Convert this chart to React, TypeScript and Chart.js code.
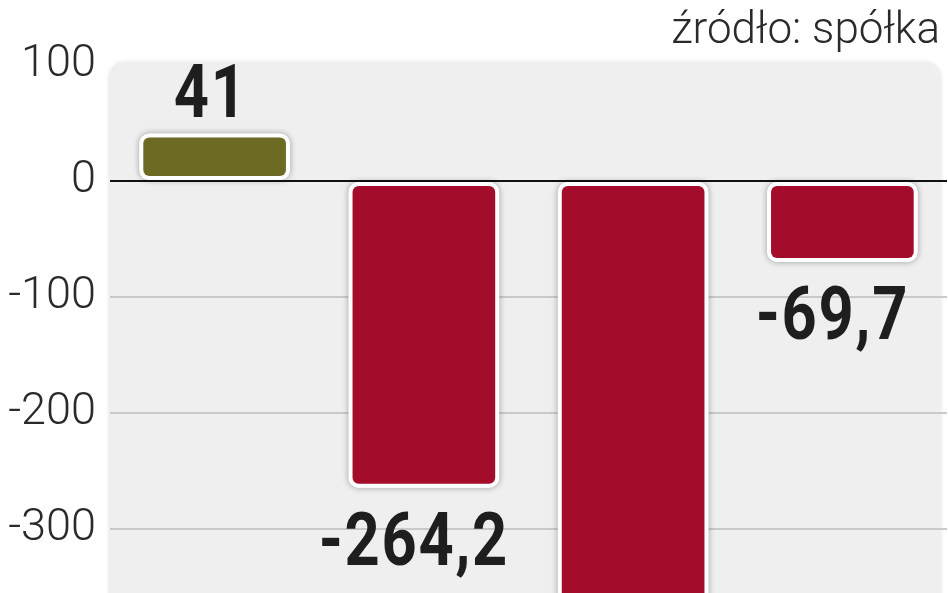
import React, { useEffect, useRef } from "react";
import { Chart, registerables } from "chart.js";

Chart.register(...registerables);

const categories = ["A", "B", "C", "D"];
const values = [41, -264.2, -480, -69.7];
const barColors = ["#6d6a24", "#a30d2b", "#a30d2b", "#a30d2b"];
const yTicks = [-300, -200, -100, 0, 100];
const sourceText = "źródło: spółka";

const fmt = (v: number) => String(v).replace(".", ",");

export default function App() {
  const ref = useRef<HTMLCanvasElement>(null);

  useEffect(() => {
    const canvas = ref.current;
    if (!canvas) return;

    const bgPlugin = {
      id: "plotBg",
      beforeDraw(chart: any) {
        const { ctx, chartArea } = chart;
        ctx.save();
        ctx.fillStyle = "#efefef";
        ctx.shadowColor = "rgba(0,0,0,0.12)";
        ctx.shadowBlur = 4;
        ctx.beginPath();
        const l = chartArea.left - 1;
        const r = 941;
        ctx.roundRect(l, chartArea.top, r - l, chart.height - chartArea.top + 20, [16, 16, 0, 0]);
        ctx.fill();
        ctx.restore();
        ctx.save();
        ctx.font = "300 44px Roboto";
        ctx.fillStyle = "#2a2a2a";
        ctx.textAlign = "right";
        ctx.textBaseline = "alphabetic";
        ctx.fillText(sourceText, 940, 43);
        ctx.restore();
      },
      beforeDatasetsDraw(chart: any) {
        const { ctx, chartArea } = chart;
        const meta = chart.getDatasetMeta(0);
        ctx.save();
        ctx.beginPath();
        ctx.rect(chartArea.left, chartArea.top, chartArea.right - chartArea.left, chartArea.bottom - chartArea.top);
        ctx.clip();
        ctx.shadowColor = "rgba(0,0,0,0.35)";
        ctx.shadowBlur = 6;
        ctx.fillStyle = "#ffffff";
        meta.data.forEach((bar: any) => {
          const p = bar.getProps(["x", "y", "base", "width"], true);
          const top = Math.min(p.y, p.base);
          const h = Math.abs(p.base - p.y);
          ctx.beginPath();
          ctx.roundRect(p.x - p.width / 2, top, p.width, h, 10);
          ctx.fill();
        });
        ctx.restore();
      },
      afterDatasetsDraw(chart: any) {
        const ctx = chart.ctx;
        const meta = chart.getDatasetMeta(0);
        const sx = 0.83;
        ctx.save();
        ctx.font = "bold 74px Roboto";
        (ctx as any).letterSpacing = "2px";
        ctx.fillStyle = "#1e1e1e";
        ctx.textAlign = "center";
        ctx.textBaseline = "alphabetic";
        meta.data.forEach((bar: any, i: number) => {
          const v = values[i];
          const x = v >= 0 ? bar.x - 4 : bar.x - 10;
          const y = v >= 0 ? bar.y - 16 : bar.y + 77;
          ctx.save();
          ctx.translate(x, y);
          ctx.scale(sx, 1);
          ctx.fillText(fmt(v), 0, 0);
          ctx.restore();
        });
        ctx.restore();
      },
    };

    const chart = new Chart(canvas, {
      type: "bar",
      data: {
        labels: categories,
        datasets: [
          {
            data: values,
            backgroundColor: barColors,
            borderColor: "#ffffff",
            borderWidth: 4,
            borderSkipped: false,
            borderRadius: 10,
            barPercentage: 0.72,
            categoryPercentage: 1,
          },
        ],
      },
      options: {
        responsive: false,
        animation: false,
        layout: { padding: { top: 62, right: 1, bottom: 0, left: 0 } },
        plugins: {
          legend: { display: false },
          tooltip: { enabled: false },
        },
        scales: {
          x: { display: false },
          y: {
            min: -355,
            max: 102.6,
            afterFit(scale: any) {
              scale.width = 110;
              scale.paddingTop = 0;
              scale.paddingBottom = 0;
            },
            afterBuildTicks(scale: any) {
              scale.ticks = yTicks.map((v) => ({ value: v }));
            },
            border: { display: false },
            grid: {
              drawTicks: false,
              lineWidth: 2,
              color: (c: any) =>
                c.tick && c.tick.value === 0
                  ? "#111111"
                  : c.tick && c.tick.value === 100
                  ? "rgba(0,0,0,0)"
                  : "#c9c9c9",
            },
            ticks: {
              padding: 14,
              color: "#2a2a2a",
              font: { family: "Roboto", weight: "300", size: 45 },
              callback: (v: any) => String(v),
            },
          },
        },
      },
      plugins: [bgPlugin],
    });

    return () => chart.destroy();
  }, []);

  return (
    <div style={{ position: "fixed", left: 0, top: 0, width: 948, height: 593, background: "#ffffff" }}>
      <canvas ref={ref} width={948} height={593} style={{ display: "block" }} />
    </div>
  );
}
